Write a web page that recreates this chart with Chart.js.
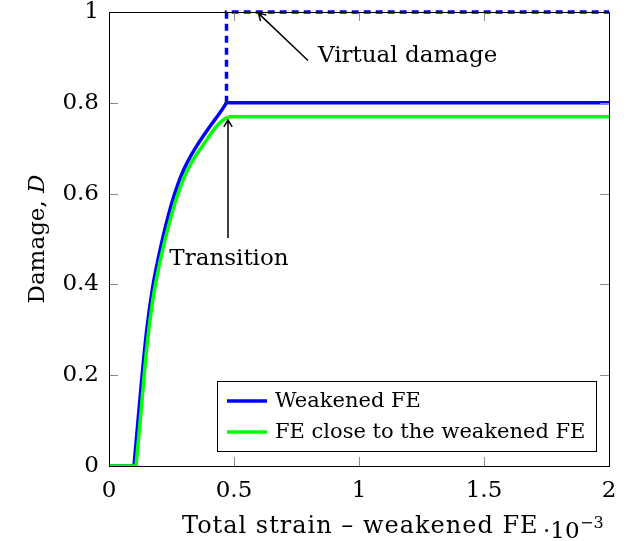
<!DOCTYPE html>
<html>
<head>
<meta charset="utf-8">
<script src="https://cdn.jsdelivr.net/npm/chart.js@4.4.1/dist/chart.umd.min.js"></script>
<style>
  html, body { margin: 0; padding: 0; background: #fff; }
  #wrap { width: 628px; height: 541px; }
</style>
</head>
<body>
<div id="wrap"><canvas id="damageChart" width="628" height="541"></canvas></div>
<script>
// values (strain in 1e-3)
const weakStrain = [0, 0.1, 0.125, 0.15, 0.175, 0.2, 0.225, 0.25, 0.275, 0.3, 0.325, 0.35, 0.375, 0.4, 0.425, 0.45, 0.47, 2];
const weakDamage = [0, 0, 0.155, 0.295, 0.395, 0.465, 0.525, 0.577, 0.62, 0.654, 0.681, 0.704, 0.725, 0.745, 0.764, 0.783, 0.80, 0.80];

const closeStrain = [0, 0.108, 0.125, 0.15, 0.175, 0.2, 0.225, 0.25, 0.275, 0.3, 0.325, 0.35, 0.375, 0.4, 0.425, 0.45, 0.477, 2];
const closeDamage = [0, 0, 0.10, 0.255, 0.365, 0.44, 0.50, 0.553, 0.598, 0.635, 0.663, 0.686, 0.706, 0.726, 0.745, 0.759, 0.769, 0.769];

const virtualStrain = [0.47, 0.47, 2];
const virtualDamage = [0.80, 1, 1];

const xTicks = [0, 0.5, 1, 1.5, 2];
const yTicks = [0, 0.2, 0.4, 0.6, 0.8, 1];
const legendOrder = ["Weakened FE", "FE close to the weakened FE"];

const FONT = '"DejaVu Serif", serif';
const FS = 23;

const toPts = (xs, ys) => xs.map((x, i) => ({ x: x, y: ys[i] }));

// flat start, smooth rise, flat end: kept apart so the corners stay sharp
const series = (xs, ys, label, color, order) => {
  const pts = toPts(xs, ys);
  const n = pts.length;
  const base = {
    label: label,
    showLine: true,
    borderColor: color,
    borderWidth: 3.5,
    borderJoinStyle: "round",
    pointRadius: 0,
    order: order,
  };
  return [
    { ...base, data: pts.slice(n - 2) },
    { ...base, data: pts.slice(1, n - 1), cubicInterpolationMode: "monotone" },
    { ...base, data: pts.slice(0, 2) },
  ];
};

// inward ticks, frame, legend, labels and arrows
const decorPlugin = {
  id: "decor",
  afterDraw(chart) {
    const ctx = chart.ctx;
    const a = chart.chartArea;
    const xs = chart.scales.x;
    const ys = chart.scales.y;
    const tl = 9;
    ctx.save();

    ctx.strokeStyle = "#8c8c8c";
    ctx.lineWidth = 1;
    ctx.beginPath();
    xTicks.slice(1, -1).forEach((v) => {
      const px = Math.round(xs.getPixelForValue(v)) + 0.5;
      ctx.moveTo(px, a.bottom); ctx.lineTo(px, a.bottom - tl);
      ctx.moveTo(px, a.top); ctx.lineTo(px, a.top + tl);
    });
    yTicks.slice(1, -1).forEach((v) => {
      const py = Math.round(ys.getPixelForValue(v)) + 0.5;
      ctx.moveTo(a.left, py); ctx.lineTo(a.left + tl, py);
      ctx.moveTo(a.right, py); ctx.lineTo(a.right - tl, py);
    });
    ctx.stroke();

    ctx.strokeStyle = "#000";
    ctx.strokeRect(Math.round(a.left) + 0.5, Math.round(a.top) + 0.5,
      Math.round(a.right - a.left), Math.round(a.bottom - a.top));

    // arrows
    const arrow = (x0, y0, x1, y1) => {
      const p0 = [xs.getPixelForValue(x0), ys.getPixelForValue(y0)];
      const p1 = [xs.getPixelForValue(x1), ys.getPixelForValue(y1)];
      const ang = Math.atan2(p1[1] - p0[1], p1[0] - p0[0]);
      ctx.strokeStyle = "#000";
      ctx.lineWidth = 1.5;
      ctx.beginPath();
      ctx.moveTo(p0[0], p0[1]);
      ctx.lineTo(p1[0], p1[1]);
      ctx.moveTo(p1[0] - 8 * Math.cos(ang - 0.55), p1[1] - 8 * Math.sin(ang - 0.55));
      ctx.lineTo(p1[0], p1[1]);
      ctx.lineTo(p1[0] - 8 * Math.cos(ang + 0.55), p1[1] - 8 * Math.sin(ang + 0.55));
      ctx.stroke();
    };
    arrow(0.796, 0.893, 0.598, 0.997);
    arrow(0.476, 0.502, 0.476, 0.762);

    ctx.fillStyle = "#000";
    ctx.font = FS + "px " + FONT;
    ctx.textBaseline = "middle";
    ctx.textAlign = "left";
    ctx.fillText("Virtual damage", xs.getPixelForValue(0.836), ys.getPixelForValue(0.903));
    ctx.textAlign = "center";
    ctx.fillText("Transition", xs.getPixelForValue(0.48), ys.getPixelForValue(0.456));

    // legend
    const lx = a.right - 392, ly = a.bottom - 85, lw = 379, lh = 70;
    ctx.fillStyle = "#fff";
    ctx.fillRect(lx, ly, lw, lh);
    ctx.strokeStyle = "#000";
    ctx.lineWidth = 1;
    ctx.strokeRect(lx + 0.5, ly + 0.5, lw, lh);
    ctx.font = "21px " + FONT;
    legendOrder.forEach((name, i) => {
      const d = chart.data.datasets.find((ds) => ds.label === name);
      const ry = ly + 20 + i * 31;
      ctx.strokeStyle = d.borderColor;
      ctx.lineWidth = 3.5;
      ctx.beginPath();
      ctx.moveTo(lx + 10, ry);
      ctx.lineTo(lx + 50, ry);
      ctx.stroke();
      ctx.fillStyle = "#000";
      ctx.textAlign = "left";
      ctx.fillText(d.label, lx + 58, ry + 1);
    });

    // axis titles
    ctx.font = "24px " + FONT;
    ctx.textAlign = "left";
    ctx.textBaseline = "alphabetic";
    ctx.letterSpacing = "1px";
    ctx.fillText("Total strain \u2013 weakened FE", 182, 533);
    ctx.letterSpacing = "0px";
    ctx.font = FS + "px " + FONT;
    ctx.fillText("\u00b710", 543, 538);
    ctx.font = "16px " + FONT;
    ctx.fillText("\u22123", 580, 528);

    ctx.translate(44, (a.top + a.bottom) / 2);
    ctx.rotate(-Math.PI / 2);
    ctx.font = FS + "px " + FONT;
    const t1 = "Damage, ";
    const w1 = ctx.measureText(t1).width;
    ctx.font = "italic " + FS + "px " + FONT;
    const w2 = ctx.measureText("D").width;
    ctx.font = FS + "px " + FONT;
    ctx.fillText(t1, -(w1 + w2) / 2, 0);
    ctx.font = "italic " + FS + "px " + FONT;
    ctx.fillText("D", -(w1 + w2) / 2 + w1, 0);
    ctx.restore();
  },
};

const noPad = (s) => {
  s.paddingTop = 0; s.paddingBottom = 0; s.paddingLeft = 0; s.paddingRight = 0;
};

new Chart(document.getElementById("damageChart"), {
  type: "scatter",
  data: {
    datasets: [
      ...series(closeStrain, closeDamage, "FE close to the weakened FE", "#00ff00", 1),
      ...series(weakStrain, weakDamage, "Weakened FE", "#0000ff", 2),
      {
        label: "Virtual damage",
        data: toPts(virtualStrain, virtualDamage),
        showLine: true,
        borderColor: "#0000ff",
        borderWidth: 3.5,
        borderDash: [7, 5],
        pointRadius: 0,
        clip: false,
        order: 3,
      },
    ],
  },
  options: {
    responsive: false,
    animation: false,
    layout: { padding: { top: 12, right: 19, left: 0, bottom: 0 } },
    plugins: { legend: { display: false }, tooltip: { enabled: false } },
    scales: {
      x: {
        type: "linear",
        min: 0,
        max: 2,
        afterFit: (s) => { s.height = 75; noPad(s); },
        afterBuildTicks: (s) => { s.ticks = xTicks.map((v) => ({ value: v })); },
        grid: { display: false, drawTicks: false },
        border: { display: false },
        ticks: {
          padding: 11,
          color: "#000",
          font: { family: FONT, size: FS },
          maxRotation: 0,
          callback: (v) => String(v),
        },
      },
      y: {
        type: "linear",
        min: 0,
        max: 1,
        afterFit: (s) => { s.width = 109; noPad(s); },
        afterBuildTicks: (s) => { s.ticks = yTicks.map((v) => ({ value: v })); },
        grid: { display: false, drawTicks: false },
        border: { display: false },
        ticks: {
          padding: 10,
          color: "#000",
          font: { family: FONT, size: FS },
          callback: (v) => String(v),
        },
      },
    },
  },
  plugins: [decorPlugin],
});
</script>
</body>
</html>
